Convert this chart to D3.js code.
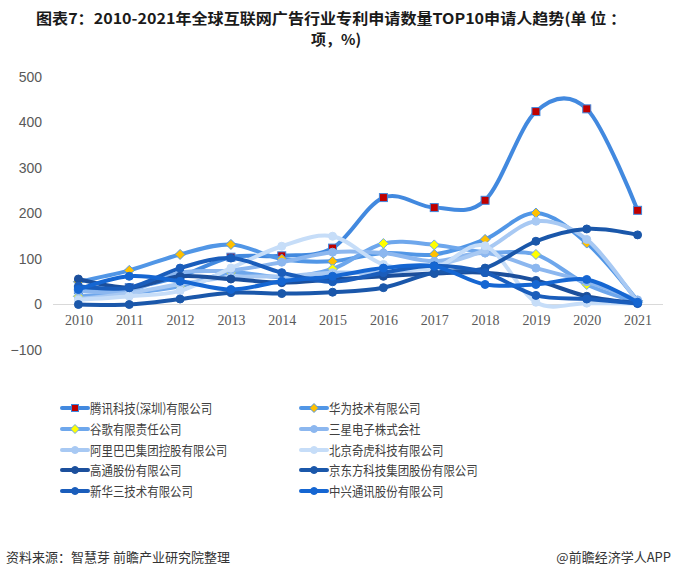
<!DOCTYPE html>
<html lang="zh">
<head>
  <meta charset="UTF-8">
  <title>图表7：2010-2021年全球互联网广告行业专利申请数量TOP10申请人趋势</title>
  <script src="https://cdn.jsdelivr.net/npm/d3@7/dist/d3.min.js"></script>
  <style>
    body { margin: 0; background: #fff; font-family: "Noto Sans CJK SC", "Noto Sans", sans-serif; }
    .title { font-size: 15px; font-weight: bold; fill: #1a1a1a; text-anchor: middle; }
    .tick text { fill: #595959; }
    .legend text { font-size: 13px; fill: #404040; }
    .source { font-size: 13px; fill: #333; }
  </style>
</head>
<body>
<script>
  const years = ["2010","2011","2012","2013","2014","2015","2016","2017","2018","2019","2020","2021"];
  const yTicks = [-100, 0, 100, 200, 300, 400, 500];

  const names = ["腾讯科技(深圳)有限公司", "华为技术有限公司", "谷歌有限责任公司", "三星电子株式会社",
                 "阿里巴巴集团控股有限公司", "北京奇虎科技有限公司", "高通股份有限公司",
                 "京东方科技集团股份有限公司", "新华三技术有限公司", "中兴通讯股份有限公司"];

  const tencent  = [33, 37, 62, 104, 107, 124, 235, 213, 229, 424, 430, 207];
  const huawei   = [50, 75, 110, 132, 100, 95, 113, 110, 143, 201, 135, 8];
  const google   = [18, 25, 40, 70, 60, 78, 134, 131, 115, 110, 44, 5];
  const samsung  = [30, 30, 70, 75, 93, 115, 113, 95, 113, 80, 50, 10];
  const alibaba  = [12, 25, 45, 60, 62, 70, 70, 85, 120, 183, 143, 5];
  const qihoo    = [10, 18, 30, 80, 128, 150, 88, 80, 129, 5, 3, 2];
  const qualcomm = [56, 37, 62, 56, 48, 55, 62, 68, 70, 53, 18, 3];
  const boe      = [0, 0, 12, 26, 24, 27, 37, 70, 80, 139, 166, 153];
  const h3c      = [40, 37, 80, 102, 70, 50, 70, 85, 70, 20, 12, 2];
  const zte      = [33, 62, 51, 33, 51, 62, 80, 84, 44, 44, 55, 5];

  const lineColors = ["#4289df", "#5196e6", "#6ea7ec", "#8cb7ef", "#a8c9f3", "#c6ddf8",
                      "#1b4f9c", "#1a57aa", "#1a5dbb", "#1566d2"];
  const markers = ["square", "diamond", "diamond", "circle", "circle", "circle", "circle", "circle", "circle", "circle"];
  const markerFill = ["#c00000", "#ffc000", "#ffff00", null, null, null, null, null, null, null];

  const values = [tencent, huawei, google, samsung, alibaba, qihoo, qualcomm, boe, h3c, zte];
  const series = names.map((n, i) => ({ name: n, values: values[i], color: lineColors[i],
                                        marker: markers[i], fill: markerFill[i] || lineColors[i] }));

  const W = 673, H = 579;
  const plot = { left: 53, right: 663, top: 77, bottom: 350 };

  const svg = d3.select("body").append("svg").attr("width", W).attr("height", H);

  svg.append("text").attr("class", "title").attr("x", 331).attr("y", 24)
     .attr("textLength", 590).attr("lengthAdjust", "spacingAndGlyphs")
     .text("图表7：2010-2021年全球互联网广告行业专利申请数量TOP10申请人趋势(单 位 ：");
  svg.append("text").attr("class", "title").attr("x", 336).attr("y", 45).text("项，%)");

  const x = d3.scalePoint().domain(years).range([plot.left, plot.right]).padding(0.5);
  const y = d3.scaleLinear().domain([-100, 500]).range([plot.bottom, plot.top]);

  // y axis labels
  const yAxis = svg.append("g").attr("transform", `translate(${plot.left - 9},0)`)
     .call(d3.axisLeft(y).tickValues(yTicks).tickSize(0).tickPadding(2));
  yAxis.select(".domain").remove();
  yAxis.selectAll("text").style("font-family", "'Liberation Sans', Arial, sans-serif").style("font-size", "14px");

  // zero line
  svg.append("line").attr("x1", plot.left).attr("x2", plot.right)
     .attr("y1", y(0)).attr("y2", y(0)).attr("stroke", "#d9d9d9").attr("stroke-width", 1);

  // x axis labels
  const xAxis = svg.append("g").attr("transform", `translate(0,${y(0)})`)
     .call(d3.axisBottom(x).tickSize(0).tickPadding(11));
  xAxis.select(".domain").remove();
  xAxis.selectAll("text").style("font-family", "'Liberation Serif', 'DejaVu Serif', serif").style("font-size", "14px");

  const line = d3.line().x((d, i) => x(years[i])).y(d => y(d)).curve(d3.curveCardinal.tension(0));

  function drawMarker(g, type, cx, cy, fill, stroke, s) {
    if (type === "square") {
      g.append("rect").attr("x", cx - s / 2).attr("y", cy - s / 2).attr("width", s).attr("height", s)
       .attr("fill", fill).attr("stroke", stroke).attr("stroke-width", 1);
    } else if (type === "diamond") {
      const r = s / 2 + 1;
      g.append("path").attr("d", `M${cx},${cy - r}L${cx + r},${cy}L${cx},${cy + r}L${cx - r},${cy}Z`)
       .attr("fill", fill).attr("stroke", stroke).attr("stroke-width", 1);
    } else {
      g.append("circle").attr("cx", cx).attr("cy", cy).attr("r", s / 2)
       .attr("fill", fill).attr("stroke", stroke).attr("stroke-width", 1);
    }
  }

  const lines = svg.append("g");
  series.forEach(s => {
    const g = lines.append("g");
    g.append("path").attr("d", line(s.values)).attr("fill", "none")
     .attr("stroke", s.color).attr("stroke-width", 4).attr("stroke-linecap", "round");
    s.values.forEach((v, i) => drawMarker(g, s.marker, x(years[i]), y(v), s.fill, s.color, 8));
  });

  // legend
  const legend = svg.append("g").attr("class", "legend");
  const rowY = [408, 429, 450, 470, 491];
  const colX = [62, 301];
  series.forEach((s, i) => {
    const lx = colX[i % 2], ly = rowY[Math.floor(i / 2)];
    const g = legend.append("g");
    g.append("line").attr("x1", lx).attr("x2", lx + 26).attr("y1", ly).attr("y2", ly)
     .attr("stroke", s.color).attr("stroke-width", 4).attr("stroke-linecap", "round");
    drawMarker(g, s.marker, lx + 13, ly, s.fill, s.color, 7);
    const t = g.append("text").attr("x", lx + 28).attr("y", ly).attr("dy", "0.36em").text(s.name);
    // the source font is narrower than Noto CJK: squeeze labels a little
    const w = t.node().getComputedTextLength();
    t.attr("textLength", w * 0.88).attr("lengthAdjust", "spacingAndGlyphs");
  });

  svg.append("text").attr("class", "source").attr("x", 6).attr("y", 562).text("资料来源：智慧芽 前瞻产业研究院整理");
  svg.append("text").attr("class", "source").attr("x", 671).attr("y", 562).attr("text-anchor", "end").text("@前瞻经济学人APP");
</script>
</body>
</html>
